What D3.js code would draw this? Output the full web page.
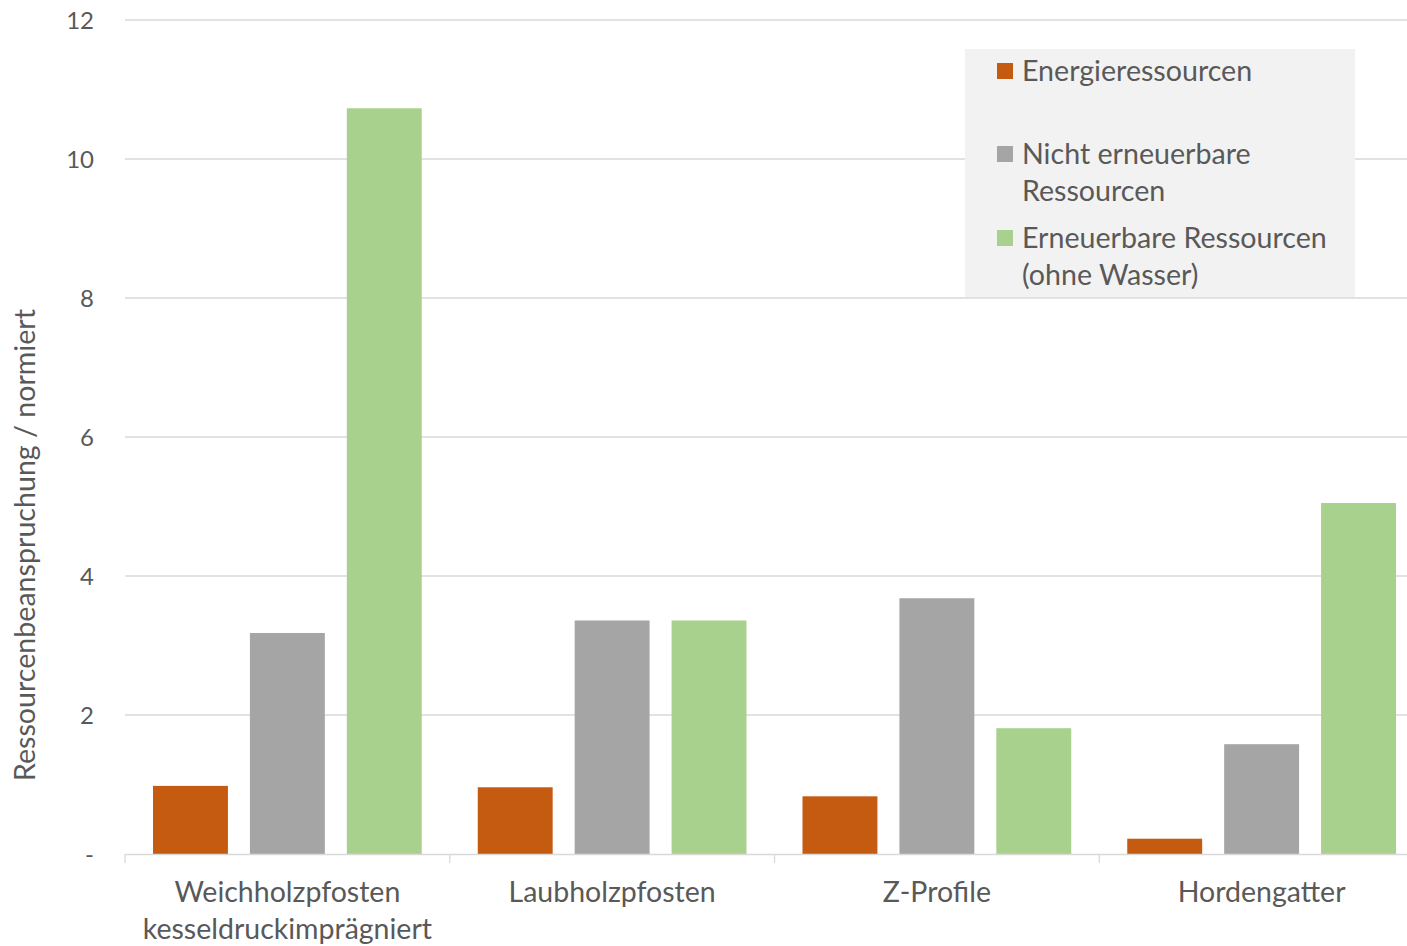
<!DOCTYPE html>
<html>
<head>
<meta charset="utf-8">
<script src="https://cdn.jsdelivr.net/npm/d3@7"></script>
<style>
  html, body { margin: 0; padding: 0; background: #fff; }
  svg { display: block; }
  svg text { font-family: Lato, "Open Sans", sans-serif; }
</style>
</head>
<body>
<svg id="chart" width="1407" height="946"></svg>
<script>
// Categories (two-line labels where needed)
const categories = ["Weichholzpfosten|kesseldruckimprägniert", "Laubholzpfosten", "Z-Profile", "Hordengatter"];
// Series
const seriesNames = ["Energieressourcen", "Nicht erneuerbare|Ressourcen", "Erneuerbare Ressourcen|(ohne Wasser)"];
const energie = [0.98, 0.96, 0.83, 0.22];
const nichtErneuerbar = [3.18, 3.36, 3.68, 1.58];
const erneuerbar = [10.73, 3.36, 1.81, 5.05];
const yTicks = [0, 2, 4, 6, 8, 10, 12];
const yTickLabels = ["-", "2", "4", "6", "8", "10", "12"];
const colors = ["#c55a11", "#a5a5a5", "#a9d18e"];

const series = [energie, nichtErneuerbar, erneuerbar];
const data = categories.map((c, i) => ({ cat: c, values: series.map(s => s[i]) }));

const svg = d3.select("#chart");
const plot = { left: 125, right: 1424, top: 20, bottom: 854 };
const textColor = "#595959";

const x0 = d3.scaleBand().domain(categories).range([plot.left, plot.right]).paddingInner(0).paddingOuter(0);
const x1 = d3.scaleBand().domain(d3.range(series.length)).range([0, x0.bandwidth()]).paddingInner(0.227).paddingOuter(0.289);
const y = d3.scaleLinear().domain([0, 12]).range([plot.bottom, plot.top]);

// gridlines
svg.append("g")
  .selectAll("line")
  .data(yTicks.filter(t => t > 0))
  .join("line")
  .attr("x1", plot.left).attr("x2", 1407)
  .attr("y1", d => y(d)).attr("y2", d => y(d))
  .attr("stroke", "#d9d9d9").attr("stroke-width", 1.3);

// y axis labels
const yAxis = d3.axisLeft(y).tickValues(yTicks).tickSize(0).tickPadding(0)
  .tickFormat((d, i) => yTickLabels[i]);
const gy = svg.append("g").attr("transform", "translate(94,0)").call(yAxis);
gy.select(".domain").remove();
gy.attr("font-family", null).attr("font-size", null);
gy.selectAll("text").attr("font-size", 24).attr("fill", textColor).attr("dy", "0.35em");

// bars
const groups = svg.append("g").selectAll("g")
  .data(data).join("g")
  .attr("transform", d => `translate(${x0(d.cat)},0)`);
groups.selectAll("rect")
  .data(d => d.values.map((v, i) => ({ v, i })))
  .join("rect")
  .attr("x", d => x1(d.i))
  .attr("width", x1.bandwidth())
  .attr("y", d => y(d.v))
  .attr("height", d => plot.bottom - y(d.v))
  .attr("fill", d => colors[d.i]);

// x axis baseline with category separators
const xAxis = d3.axisBottom(x0).tickSize(0).tickFormat("");
const gx = svg.append("g").attr("transform", `translate(0,${plot.bottom})`).call(xAxis);
gx.attr("font-family", null).attr("font-size", null);
gx.select(".domain").attr("stroke", "#d9d9d9").attr("stroke-width", 1.3)
  .attr("d", `M${plot.left},0.5H1407`);
gx.selectAll("line.sep")
  .data(categories.map(c => x0(c)))
  .join("line").attr("class", "sep")
  .attr("x1", d => d).attr("x2", d => d)
  .attr("y1", 0).attr("y2", 9)
  .attr("stroke", "#d9d9d9").attr("stroke-width", 1.3);

// category labels
gx.selectAll("text.cat")
  .data(categories)
  .join("text").attr("class", "cat")
  .attr("text-anchor", "middle")
  .attr("font-size", 28.5).attr("fill", textColor)
  .attr("transform", d => `translate(${x0(d) + x0.bandwidth() / 2},0)`)
  .each(function (d) {
    const lines = d.split("|");
    d3.select(this).selectAll("tspan").data(lines).join("tspan")
      .attr("x", 0).attr("y", (l, i) => 48 + i * 37).text(l => l);
  });

// y axis title
svg.append("text")
  .attr("transform", "translate(35,545) rotate(-90)")
  .attr("text-anchor", "middle")
  .attr("font-size", 28.6).attr("fill", textColor)
  .text("Ressourcenbeanspruchung / normiert");

// legend
const legend = svg.append("g");
legend.append("rect").attr("x", 965).attr("y", 49).attr("width", 390).attr("height", 248).attr("fill", "#f2f2f2");
const legendRows = [81, 164, 248];
seriesNames.forEach((name, i) => {
  const g = legend.append("g");
  g.append("rect").attr("x", 997).attr("y", legendRows[i] - 18).attr("width", 16).attr("height", 16).attr("fill", colors[i]);
  const t = g.append("text").attr("font-size", 28.6).attr("fill", textColor);
  name.split("|").forEach((l, j) => {
    t.append("tspan").attr("x", 1022).attr("y", legendRows[i] + j * 37).text(l);
  });
});
</script>
</body>
</html>
